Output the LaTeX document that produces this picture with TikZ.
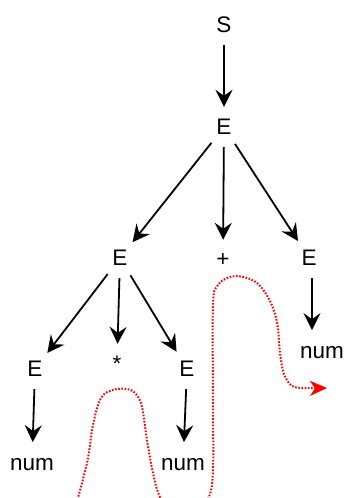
\documentclass[tikz,border=0pt]{standalone}
\usepackage{fontspec}
\setmainfont{Liberation Sans}
\usepackage{xcolor}
\usepackage{tikz}
\usetikzlibrary{arrows.meta}
\definecolor{walkred}{RGB}{255,0,0}

\begin{document}
\begin{tikzpicture}[x=1pt,y=-1pt,
  sym/.style={circle,minimum size=40pt,inner sep=0pt,font=\fontsize{22.5}{26}\selectfont},
  tree/.style={line width=1.8pt,-{Stealth[length=17pt,width=17pt,inset=6pt]}},
  walk/.style={walkred,line width=2pt,dash pattern=on 1.6pt off 1.6pt,-{Stealth[length=17pt,width=15pt,inset=5pt]}}]
\useasboundingbox (0,0) rectangle (345,498);
\clip (0,0) rectangle (345,498);
% parse tree
\node[sym] (s) at (224,25) {S};
\node[sym] (e0) at (224,127) {E};
\node[sym] (e1) at (120,258) {E};
\node[sym] (plus) at (223,260) {+};
\node[sym] (e2) at (309,258) {E};
\node[sym] (e3) at (35,369) {E};
\node[sym] (star) at (117,364) {*};
\node[sym] (e4) at (187,369) {E};
\node[sym] (n3) at (32,465) {num};
\node[sym] (n4) at (183,465) {num};
\node[sym] (n2) at (322,353) {num};
\draw[tree] (s) -- (e0);
\draw[tree] (e0) -- (e1);
\draw[tree] (e0) -- (plus);
\draw[tree] (e0) -- (e2);
\draw[tree] (e1) -- (e3);
\draw[tree] (e1) -- (star);
\draw[tree] (e1) -- (e4);
\draw[tree] (e3) -- (n3);
\draw[tree] (e4) -- (n4);
\draw[tree] ([xshift=3pt]e2.south) -- ([xshift=3pt]e2.south |- n2.north);
% walk along the leaves
\draw[walk] plot[smooth,tension=0.6] coordinates {(74,512) (87,463) (93,425) (101,398) (113,390) (127,389) (136,394) (142,407) (147,440) (153,473) (160,497) (172,510) (198,510) (209,497) (213,470) (213,400) (213,305) (218,285) (230,277) (243,277) (257,283) (269,299) (277,322) (280,353) (284,374) (292,386) (304,388) (327,388)};
\end{tikzpicture}
\end{document}
